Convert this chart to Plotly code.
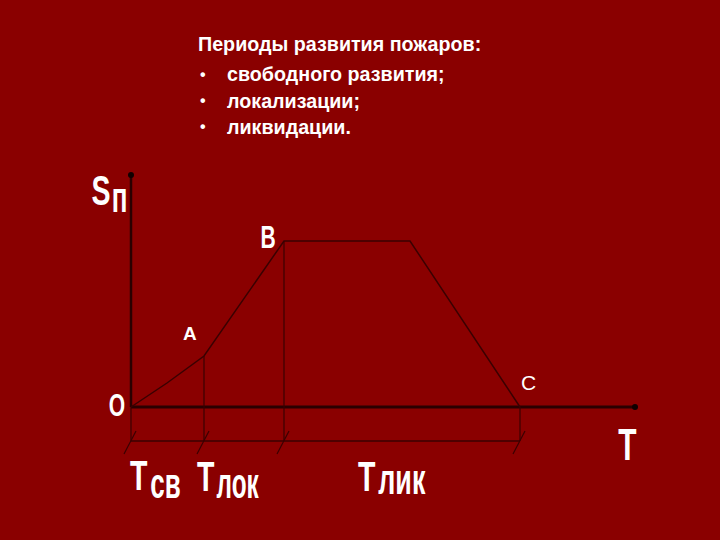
import plotly.graph_objects as go

W, H = 720, 540
BG = "#8a0000"
LINE = "#3a0000"
AXIS = "#2a0000"

# Fire area Sп versus time T (arbitrary units)
t_curve = [0, 36, 73, 153, 279, 389]
s_curve = [0, 24, 51, 166, 166, 0]
# Period boundaries: start, end of free development (Tсв), localization (Tлок), liquidation (Tлик)
t_bounds = [0, 73, 153, 389]
s_bounds = [0, 51, 166, 0]
t_axis_end = 504
s_axis_end = 232
bracket_level = -34

title_lines = ["Периоды развития пожаров:", "свободного развития;", "локализации;", "ликвидации."]
period_labels = ["св", "лок", "лик"]

fig = go.Figure()

# Axes
fig.add_trace(go.Scatter(x=[0, t_axis_end], y=[0, 0], mode="lines",
                         line=dict(color=AXIS, width=3), hoverinfo="skip"))
fig.add_trace(go.Scatter(x=[0, 0], y=[0, s_axis_end], mode="lines",
                         line=dict(color=AXIS, width=2.5), hoverinfo="skip"))
fig.add_trace(go.Scatter(x=[t_axis_end, 0], y=[0, s_axis_end], mode="markers",
                         marker=dict(color="#100000", size=6), hoverinfo="skip"))

# Curve
fig.add_trace(go.Scatter(x=t_curve, y=s_curve, mode="lines",
                         line=dict(color=LINE, width=1.5), hoverinfo="skip"))

# Vertical drop lines from boundaries
for t, s in zip(t_bounds, s_bounds):
    fig.add_trace(go.Scatter(x=[t, t], y=[s, bracket_level], mode="lines",
                             line=dict(color=LINE, width=1.2), hoverinfo="skip"))
    fig.add_trace(go.Scatter(x=[t - 7, t + 5], y=[bracket_level - 13, bracket_level + 10], mode="lines",
                             line=dict(color=LINE, width=1.2), hoverinfo="skip"))

# Bottom bracket line
fig.add_trace(go.Scatter(x=[t_bounds[0], t_bounds[-1]], y=[bracket_level, bracket_level], mode="lines",
                         line=dict(color=LINE, width=1.5), hoverinfo="skip"))

def narrow(pct):
    return "Squeeze%d, Liberation Sans, Arial, sans-serif" % pct

BOLD = "Liberation Sans, Arial, sans-serif"

ann = []
def px(x, y, text, size, family=narrow(68), xanchor="center", yanchor="middle"):
    ann.append(dict(x=x / W, y=1 - y / H, xref="paper", yref="paper", text=text, showarrow=False,
                    xanchor=xanchor, yanchor=yanchor,
                    font=dict(family=family, size=size, color="white")))

# Title block
px(196, 44, "<b>" + title_lines[0] + "</b>", 19.7, BOLD, xanchor="left")
for i, line in enumerate(title_lines[1:]):
    y = 74 + i * 26.5
    px(203, y, "<b>•</b>", 16, BOLD)
    px(225, y, "<b>" + line + "</b>", 19.7, BOLD, xanchor="left")

# Axis labels
px(100.5, 190, "<b>S</b>", 42)
px(119.5, 197, "<b>п</b>", 42, narrow(62))
px(117, 405, "<b>O</b>", 31)
px(627, 444, "<b>T</b>", 44)
px(190, 333, "<b>A</b>", 19, BOLD)
px(528, 382, "C", 21, BOLD)
px(268, 237, "<b>B</b>", 31)

# Period labels
px(139, 475, "<b>T</b>", 42)
px(165, 483, "<b>" + period_labels[0] + "</b>", 42, narrow(62))
px(206, 476, "<b>T</b>", 42)
px(237.5, 483, "<b>" + period_labels[1] + "</b>", 42, narrow(58))
px(367, 476, "<b>T</b>", 42)
px(402.5, 479, "<b>" + period_labels[2] + "</b>", 42, narrow(64))

fig.update_layout(
    width=W, height=H, margin=dict(l=0, r=0, t=0, b=0),
    paper_bgcolor=BG, plot_bgcolor=BG, showlegend=False,
    xaxis=dict(range=[-131, 589], visible=False, fixedrange=True),
    yaxis=dict(range=[-133, 407], visible=False, fixedrange=True),
    annotations=ann,
)

post = """
document.body.style.margin = '0';
document.querySelectorAll('text.annotation-text').forEach(function(el){
  var st = el.getAttribute('style') || '';
  var m = st.match(/Squeeze(\\d+)/);
  if (m) {
    el.style.transformBox = 'fill-box';
    el.style.transformOrigin = 'center';
    el.style.transform = 'scaleX(' + (parseInt(m[1], 10) / 100) + ')';
  }
});
"""

fig.write_html("out.html", post_script=post, config={"displayModeBar": False})
